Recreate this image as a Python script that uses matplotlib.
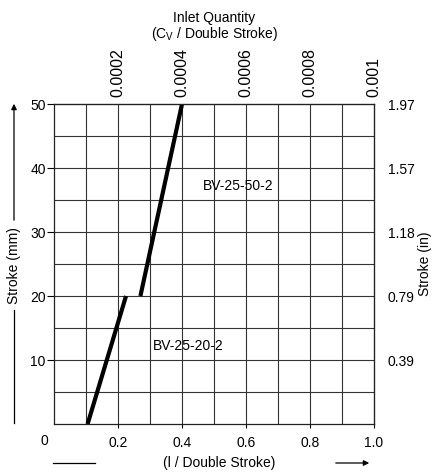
import matplotlib
matplotlib.use("Agg")
from matplotlib import pyplot as plt

plt.rcParams['font.family'] = ['Liberation Sans', 'DejaVu Sans']

# data
short_x = [0.105, 0.225]   # l / double stroke
short_y = [0, 20]          # stroke mm
long_x = [0.27, 0.40]
long_y = [20, 50]
short_name = "BV-25-20-2"
long_name = "BV-25-50-2"

bottom_ticks = [0.2, 0.4, 0.6, 0.8, 1.0]
bottom_labels = ["0.2", "0.4", "0.6", "0.8", "1.0"]
top_labels = ["0.0002", "0.0004", "0.0006", "0.0008", "0.001"]
left_ticks = [10, 20, 30, 40, 50]
right_labels = ["0.39", "0.79", "1.18", "1.57", "1.97"]

FS = 10
fig = plt.figure(figsize=(4.37, 4.73), dpi=100)
ax = fig.add_axes([0.1236, 0.1036, 0.7322, 0.6764])
ax.set_xlim(0, 1.0)
ax.set_ylim(0, 50)

# grid
for gx in [i / 10 for i in range(1, 10)]:
    ax.axvline(gx, color='#333333', lw=0.8)
for gy in range(5, 50, 5):
    ax.axhline(gy, color='#333333', lw=0.8)
for s in ax.spines.values():
    s.set_linewidth(0.9)
    s.set_color('#222222')

ax.plot(short_x, short_y, color='black', lw=3, solid_capstyle='butt')
ax.plot(long_x, long_y, color='black', lw=3, solid_capstyle='butt')
ax.text(0.575, 37.2, long_name, fontsize=FS, ha='center', va='center')
ax.text(0.42, 12.2, short_name, fontsize=FS, ha='center', va='center')

ax.set_xticks(bottom_ticks)
ax.set_xticklabels(bottom_labels, fontsize=FS)
ax.set_yticks(left_ticks)
ax.set_yticklabels([str(v) for v in left_ticks], fontsize=FS)
ax.tick_params(axis='x', direction='out', length=3, pad=6)
ax.tick_params(axis='y', direction='out', length=5, pad=1)
ax.text(-0.03, -0.03, "0", transform=ax.transAxes, fontsize=FS,
        ha='center', va='top')

top = ax.secondary_xaxis('top')
top.set_xticks(bottom_ticks)
top.set_xticklabels(top_labels, fontsize=11.5, rotation=90)
top.tick_params(length=0, pad=5)
top.set_xlabel("Inlet Quantity\n(C$_\\mathregular{V}$ / Double Stroke)",
               fontsize=FS, labelpad=7, linespacing=1.0)

right = ax.secondary_yaxis('right')
right.set_yticks(left_ticks)
right.set_yticklabels(right_labels, fontsize=FS)
right.tick_params(length=0, pad=10)
fig.text(425 / 437, 1 - 264 / 473, "Stroke (in)", rotation=90, fontsize=FS,
         ha='center', va='center')

# left label with arrow
fig.text(14 / 437, 1 - 266 / 473, "Stroke (mm)", rotation=90, fontsize=FS,
         ha='center', va='center')
fig.add_artist(plt.Line2D([14 / 437, 14 / 437], [1 - 423 / 473, 1 - 310 / 473],
                          color='black', lw=0.9, transform=fig.transFigure))
ax.annotate("", xy=(14 / 437, 1 - 101 / 473), xytext=(14 / 437, 1 - 223 / 473),
            xycoords='figure fraction', textcoords='figure fraction',
            arrowprops=dict(arrowstyle='-|>', color='black', lw=0.9,
                            mutation_scale=8))

# bottom label with arrow
fig.text(219 / 437, 1 - 463 / 473, "(l / Double Stroke)", fontsize=FS,
         ha='center', va='center')
fig.add_artist(plt.Line2D([53 / 437, 95 / 437], [1 - 463 / 473, 1 - 463 / 473],
                          color='black', lw=0.9, transform=fig.transFigure))
ax.annotate("", xy=(372 / 437, 1 - 463 / 473), xytext=(333 / 437, 1 - 463 / 473),
            xycoords='figure fraction', textcoords='figure fraction',
            arrowprops=dict(arrowstyle='-|>', color='black', lw=0.9,
                            mutation_scale=8))

fig.savefig("out.png", dpi=100)
